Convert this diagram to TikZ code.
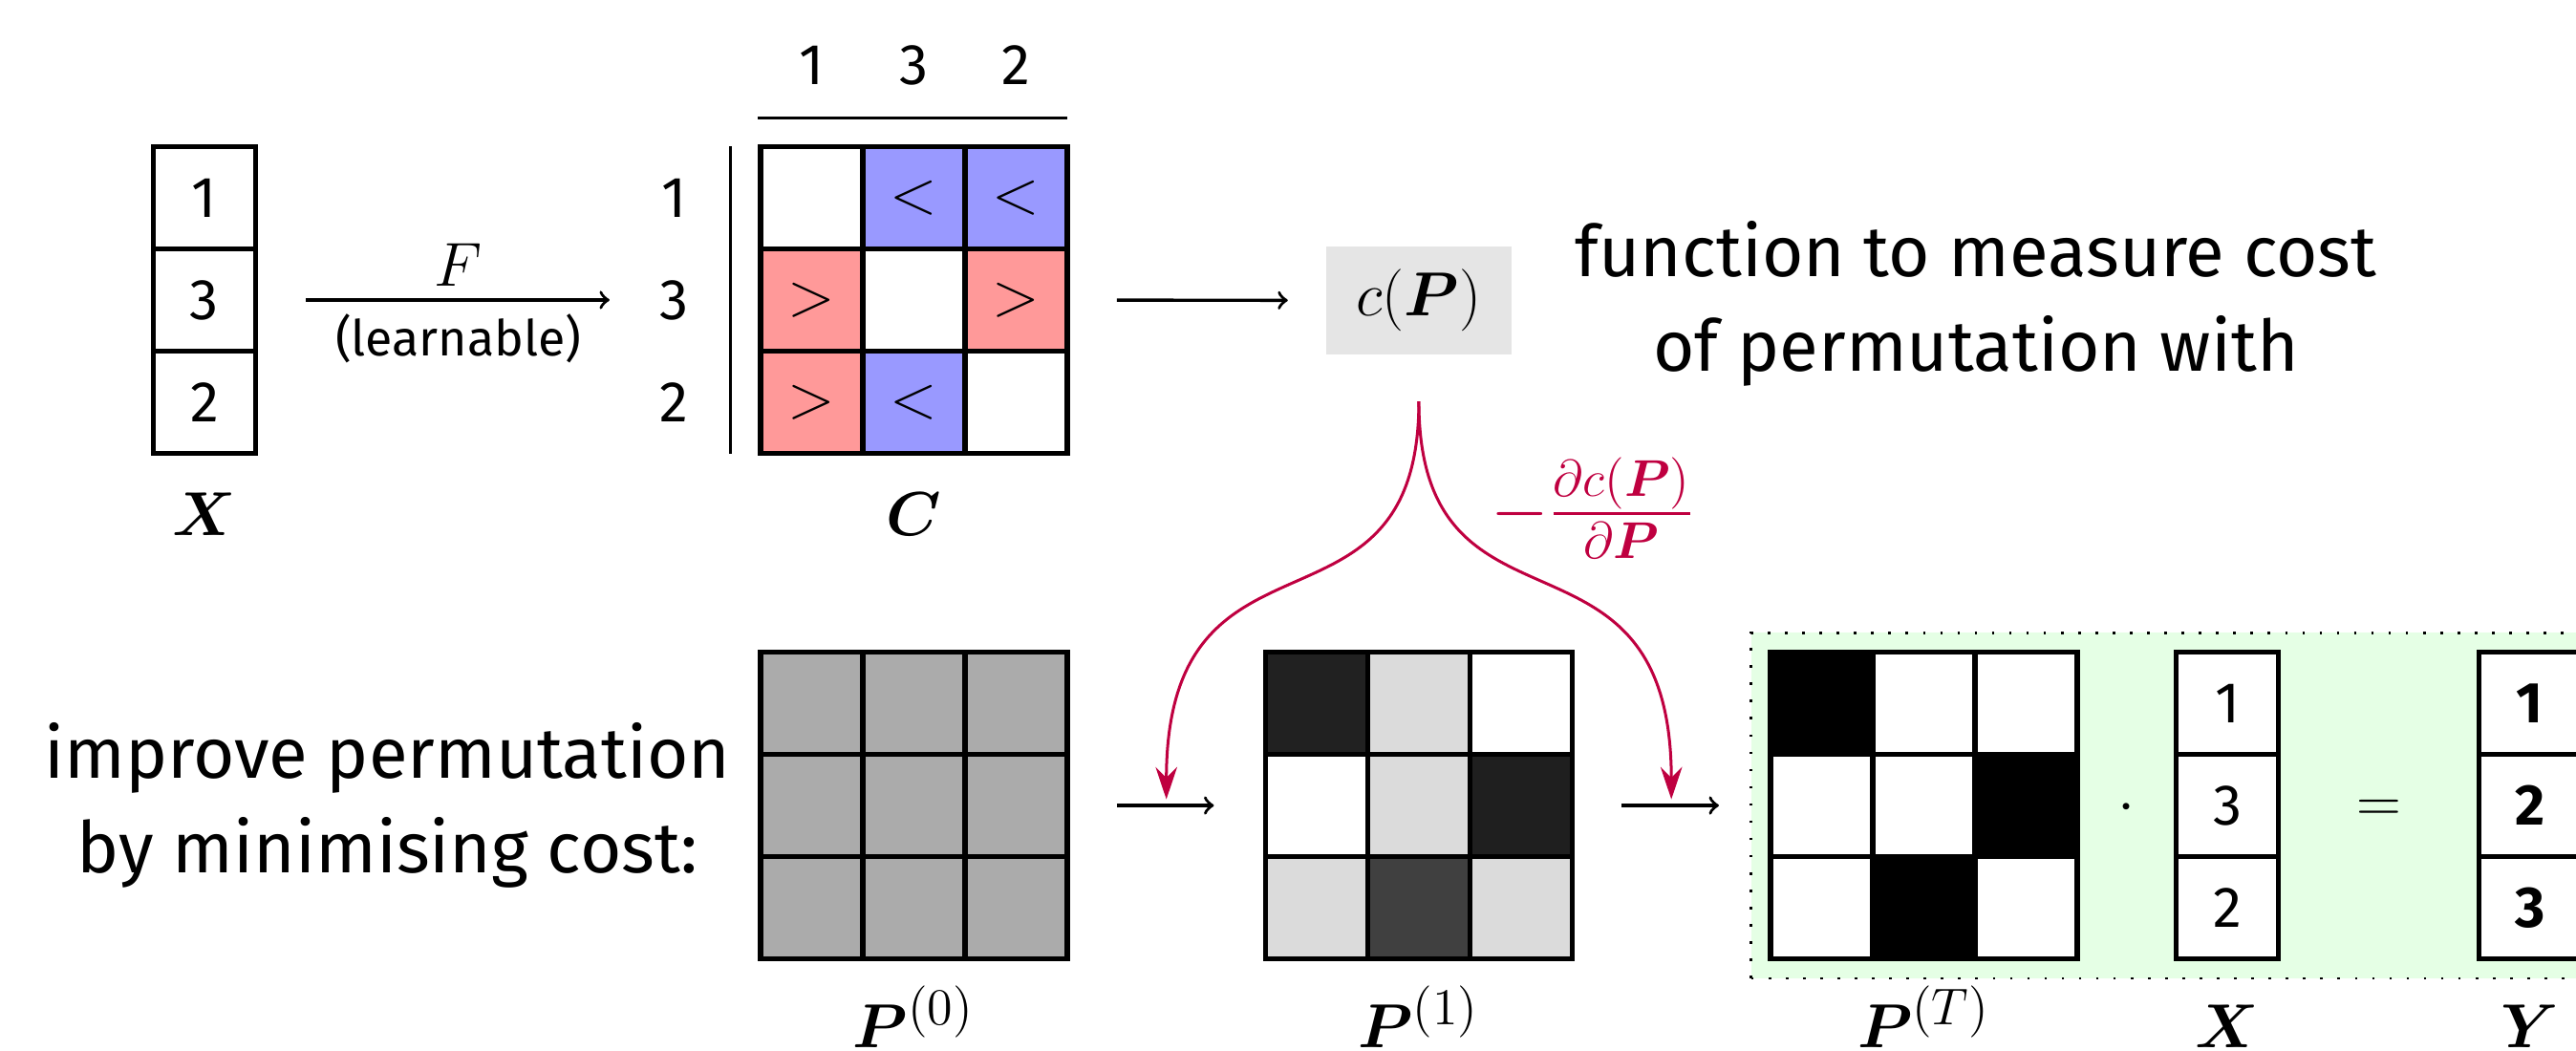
\documentclass[tikz,border=0pt]{standalone}
\usepackage{amsmath}
\usepackage[no-math]{fontspec}
\setmainfont{Fira Sans}
\usetikzlibrary{arrows.meta, positioning, calc}

\definecolor{gradred}{RGB}{191,0,64}

\begin{document}
\begin{tikzpicture}[>=to,
    cell/.style={draw, line width=1.4pt, minimum size=1cm, inner sep=0pt, font=\fontsize{16}{18}\selectfont},
    num/.style={inner sep=0pt, font=\fontsize{16}{18}\selectfont},
    big/.style={font=\fontsize{19.8}{26.5}\selectfont},
    mth/.style={font=\fontsize{19}{22}\selectfont},
    arr/.style={->, line width=0.9pt},
    grad/.style={-{Stealth[length=9pt, width=6pt, inset=3pt]}, draw=gradred, line width=0.8pt},
    greenbox/.style={fill=green!10, line width=0.7pt, dash pattern=on 0.7pt off 4.1pt},
]
    \path[use as bounding box] (0,0) rectangle (25.2,10.28);
    \clip (0,0) rectangle (25.2,10.28);

    % input vector
    \foreach \v [count=\i] in {1,3,2}
        \node[cell] (x\i) at (2.0, 9.345-\i) {\v};
    \node[mth, anchor=base] (xlab) at (2.0, 5.04) {$\boldsymbol{X}$};

    % pairwise comparisons C
    \foreach \v [count=\i] in {1,3,2} {
        \node[num] (r\i) at (6.59, 9.345-\i) {\v};
        \node[num] (k\i) at (6.94+\i, 9.64) {\v};
    }
    \foreach \i/\j/\col/\sym in {1/1/white/{}, 1/2/blue!40/<, 1/3/blue!40/<,
                                 2/1/red!40/>, 2/2/white/{}, 2/3/red!40/>,
                                 3/1/red!40/>, 3/2/blue!40/<, 3/3/white/{}}
        \node[cell, fill=\col, mth] (c\i\j) at (6.94+\j, 9.345-\i) {$\sym$};
    \draw[line width=0.8pt] (7.15,5.84) -- (7.15,8.85);
    \draw[line width=0.8pt] (7.41,9.13) -- (10.44,9.13);
    \node[mth, anchor=base] (clab) at (8.94, 5.04) {$\boldsymbol{C}$};

    \draw[arr, shorten <=0.47cm, shorten >=0.48cm] (x2) -- node[mth, above] (flab) {$F$}
        node[below, font=\fontsize{13.8}{16}\selectfont] (learn) {(learnable)} (r2);

    % cost
    \node[fill=gray!20, minimum width=1.81cm, minimum height=1.06cm, mth] (cost) at (13.88,7.34) {$c(\boldsymbol{P})$};
    \draw[arr, shorten <=0.46cm, shorten >=0.37cm] (c23) -- (cost);
    \node[big, align=center] (costtxt) at (19.33,7.31) {function to measure cost\\of permutation with};

    % optimisation
    \node[big, align=center] (howto) at (3.79,2.40) {improve permutation\\by minimising cost:};

    \foreach \i in {1,2,3}
        \foreach \j in {1,2,3}
            \node[cell, fill=black!33] (pa\i\j) at (6.94+\j, 4.4-\i) {};

    \foreach \i/\j/\col in {1/1/black!87, 1/2/black!14, 1/3/white,
                            2/1/white, 2/2/black!14, 2/3/black!88,
                            3/1/black!14, 3/2/black!75, 3/3/black!14}
        \node[cell, fill=\col] (pb\i\j) at (11.88+\j, 4.4-\i) {};

    \draw[greenbox] (17.13,0.71) rectangle (26.5,4.09);

    \foreach \i/\j/\col in {1/1/black, 1/2/white, 1/3/white,
                            2/1/white, 2/2/white, 2/3/black,
                            3/1/white, 3/2/black, 3/3/white}
        \node[cell, fill=\col] (pc\i\j) at (16.82+\j, 4.4-\i) {};

    \node[mth, anchor=base] (dot) at (20.8, 2.233) {$\cdot$};
    \foreach \v [count=\i] in {1,3,2}
        \node[cell, fill=white] (xb\i) at (21.79, 4.4-\i) {\v};
    \node[mth, anchor=base] (eq) at (23.27, 2.233) {$=$};
    \foreach \v [count=\i] in {1,2,3}
        \node[cell, fill=white, font=\fontsize{16}{18}\selectfont\bfseries] (y\i) at (24.75, 4.4-\i) {\v};

    \draw[arr, shorten <=0.46cm, shorten >=0.48cm] (pa23) -- coordinate[midway] (m1) (pb21);
    \draw[arr, shorten <=0.46cm, shorten >=0.48cm] (pb23) -- coordinate[midway] (m2) (pc21);

    % gradient step
    \draw[grad, shorten <=0.45cm, shorten >=0.06cm] (cost.south) to[out=-90, in=90, looseness=1.5] (m1);
    \draw[grad, shorten <=0.45cm, shorten >=0.06cm] (cost.south) to[out=-90, in=90, looseness=1.5] (m2);
    \node[text=gradred, font=\fontsize{22}{25}\selectfont] (gradlab) at (15.58,5.31) {$-\frac{\partial c(\boldsymbol{P})}{\partial \boldsymbol{P}}$};

    \node[mth, anchor=base] (palab) at (8.94,0.03) {$\boldsymbol{P}^{(0)}$};
    \node[mth, anchor=base] (pblab) at (13.88,0.03) {$\boldsymbol{P}^{(1)}$};
    \node[mth, anchor=base] (pclab) at (18.82,0.03) {$\boldsymbol{P}^{(T)}$};
    \node[mth, anchor=base] (xblab) at (21.79,0.03) {$\boldsymbol{X}$};
    \node[mth, anchor=base] (ylab) at (24.75,0.03) {$\boldsymbol{Y}$};
\end{tikzpicture}
\end{document}
